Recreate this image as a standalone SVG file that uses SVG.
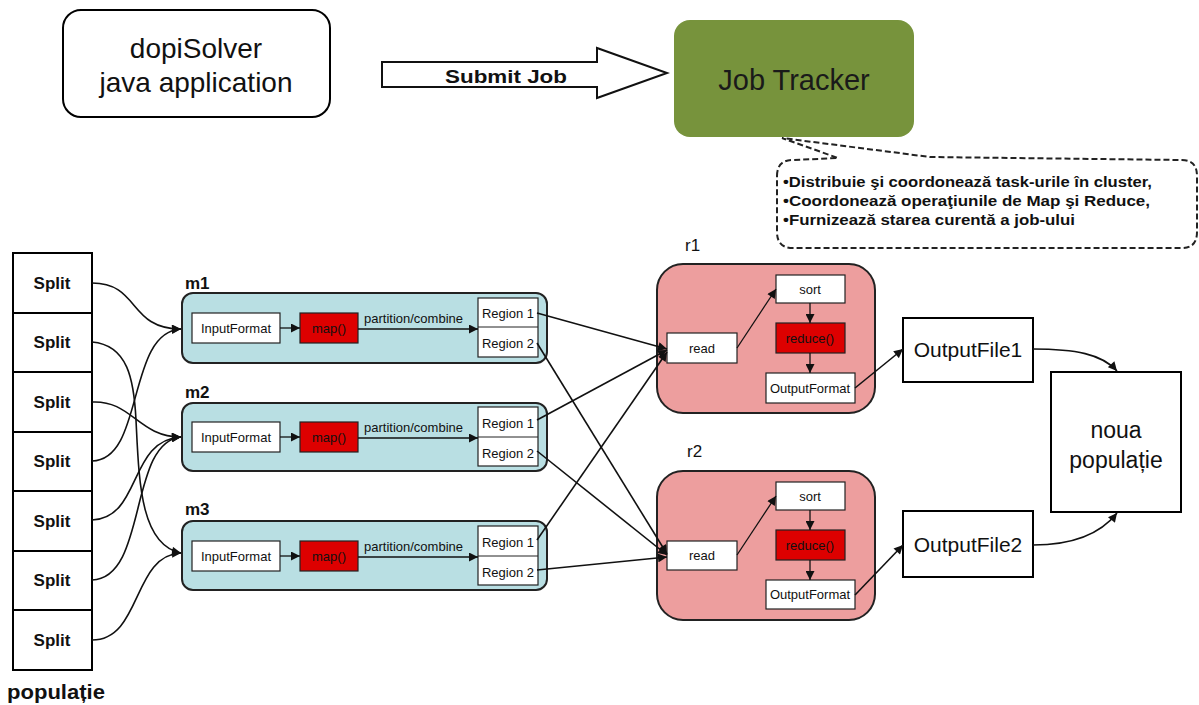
<svg xmlns="http://www.w3.org/2000/svg" width="1199" height="705" viewBox="0 0 1199 705">
<style>
text{font-family:"Liberation Sans",Arial,sans-serif;fill:#111}
.big{font-size:28px}
.split{font-size:17px;font-weight:bold;text-anchor:middle}
.lbl{font-size:17px;font-weight:bold}
.sm{font-size:13px;text-anchor:middle}
.smL{font-size:13px}
.bul{font-size:14px;font-weight:bold}
.box{fill:#fff;stroke:#000;stroke-width:2}
.thin{fill:#fff;stroke:#222;stroke-width:1.2}
.red{fill:#DD0000;stroke:#222;stroke-width:1.2}
.mapb{fill:#B9DFE3;stroke:#222;stroke-width:2}
.redb{fill:#ED9E9E;stroke:#222;stroke-width:2}
.con{fill:none;stroke:#111;stroke-width:1.6}
.cs{fill:none;stroke:#111;stroke-width:1.3}
</style>
<defs>
<marker id="ah" viewBox="0 0 10 10" refX="10" refY="5" markerWidth="10" markerHeight="9" markerUnits="userSpaceOnUse" orient="auto">
<path d="M0,0 L10,5 L0,10 Z" fill="#111"/>
</marker>
</defs>

<g id="dopiSolver">
<rect x="63" y="10" width="267" height="107" rx="18" class="box"/>
<text class="big" x="196" y="58" text-anchor="middle">dopiSolver</text>
<text class="big" x="196" y="92" text-anchor="middle">java application</text>
</g>

<g id="submitJob">
<path d="M382,62 L597,62 L597,48 L667,73 L597,98 L597,87 L382,87 Z" fill="#fff" stroke="#111" stroke-width="2"/>
<text x="445" y="83" font-size="18" font-weight="bold" textLength="122" lengthAdjust="spacingAndGlyphs">Submit Job</text>
</g>

<g id="jobTracker">
<rect x="674" y="20" width="240" height="117" rx="16" fill="#77933C"/>
<text x="794" y="90" font-size="29" text-anchor="middle" style="fill:#1a1a1a">Job Tracker</text>
</g>

<g id="callout">
<path d="M777,176 Q777,160 793,160 L838,158 L782,138 L930,157 L1182,160 Q1197,160 1197,176 L1197,232 Q1197,248 1182,248 L793,248 Q777,248 777,232 Z" fill="#fff" stroke="#222" stroke-width="2" stroke-dasharray="6,3"/>
<text class="bul" x="783" y="187" textLength="369" lengthAdjust="spacingAndGlyphs">•Distribuie şi coordonează task-urile în cluster,</text>
<text class="bul" x="783" y="206" textLength="367" lengthAdjust="spacingAndGlyphs">•Coordonează operaţiunile de Map şi Reduce,</text>
<text class="bul" x="783" y="225" textLength="292" lengthAdjust="spacingAndGlyphs">•Furnizează starea curentă a job-ului</text>
</g>

<g id="populatie">
<rect x="13" y="253" width="79" height="60" class="box"/>
<text class="split" x="52" y="289">Split</text>
<rect x="13" y="313" width="79" height="59" class="box"/>
<text class="split" x="52" y="348">Split</text>
<rect x="13" y="372" width="79" height="60" class="box"/>
<text class="split" x="52" y="408">Split</text>
<rect x="13" y="432" width="79" height="59" class="box"/>
<text class="split" x="52" y="467">Split</text>
<rect x="13" y="491" width="79" height="60" class="box"/>
<text class="split" x="52" y="527">Split</text>
<rect x="13" y="551" width="79" height="59" class="box"/>
<text class="split" x="52" y="586">Split</text>
<rect x="13" y="610" width="79" height="60" class="box"/>
<text class="split" x="52" y="646">Split</text>
<text x="7" y="699" font-size="21" font-weight="bold" textLength="98" lengthAdjust="spacingAndGlyphs">populație</text>
</g>

<g id="m1">
<text class="lbl" x="185" y="289">m1</text>
<rect x="182" y="293" width="365" height="70" rx="11" class="mapb"/>
<rect x="192" y="313" width="88" height="30" class="thin"/>
<text class="sm" x="236" y="333">InputFormat</text>
<rect x="300" y="313" width="58" height="30" class="red"/>
<text class="sm" x="329" y="333">map()</text>
<text class="smL" x="364" y="323">partition/combine</text>
<rect x="478" y="298" width="60" height="59" class="thin"/>
<line x1="478" y1="327" x2="538" y2="327" stroke="#222" stroke-width="1"/>
<text class="sm" x="508" y="318">Region 1</text>
<text class="sm" x="508" y="348">Region 2</text>
</g>

<g id="m2">
<text class="lbl" x="185" y="398">m2</text>
<rect x="182" y="403" width="365" height="68" rx="11" class="mapb"/>
<rect x="192" y="422" width="88" height="30" class="thin"/>
<text class="sm" x="236" y="442">InputFormat</text>
<rect x="300" y="422" width="58" height="30" class="red"/>
<text class="sm" x="329" y="442">map()</text>
<text class="smL" x="364" y="432">partition/combine</text>
<rect x="478" y="407" width="60" height="59" class="thin"/>
<line x1="478" y1="437" x2="538" y2="437" stroke="#222" stroke-width="1"/>
<text class="sm" x="508" y="428">Region 1</text>
<text class="sm" x="508" y="458">Region 2</text>
</g>

<g id="m3">
<text class="lbl" x="185" y="515">m3</text>
<rect x="182" y="521" width="365" height="69" rx="11" class="mapb"/>
<rect x="192" y="541" width="88" height="30" class="thin"/>
<text class="sm" x="236" y="561">InputFormat</text>
<rect x="300" y="541" width="58" height="30" class="red"/>
<text class="sm" x="329" y="561">map()</text>
<text class="smL" x="364" y="551">partition/combine</text>
<rect x="478" y="526" width="60" height="59" class="thin"/>
<line x1="478" y1="556" x2="538" y2="556" stroke="#222" stroke-width="1"/>
<text class="sm" x="508" y="547">Region 1</text>
<text class="sm" x="508" y="577">Region 2</text>
</g>

<g id="r1">
<text x="685" y="251" font-size="17">r1</text>
<rect x="657" y="264" width="218" height="149" rx="26" class="redb"/>
<rect x="667" y="333" width="70" height="30" class="thin"/>
<text class="sm" x="702" y="353">read</text>
<rect x="776" y="275" width="69" height="28" class="thin"/>
<text class="sm" x="810" y="294">sort</text>
<rect x="776" y="323" width="69" height="30" class="red"/>
<text class="sm" x="810" y="343">reduce()</text>
<rect x="766" y="373" width="89" height="30" class="thin"/>
<text class="sm" x="810" y="393">OutputFormat</text>
</g>

<g id="r2">
<text x="687" y="457" font-size="17">r2</text>
<rect x="657" y="471" width="218" height="149" rx="26" class="redb"/>
<rect x="667" y="541" width="70" height="29" class="thin"/>
<text class="sm" x="702" y="560">read</text>
<rect x="776" y="482" width="69" height="28" class="thin"/>
<text class="sm" x="810" y="501">sort</text>
<rect x="776" y="530" width="69" height="30" class="red"/>
<text class="sm" x="810" y="550">reduce()</text>
<rect x="766" y="580" width="89" height="29" class="thin"/>
<text class="sm" x="810" y="599">OutputFormat</text>
</g>

<g id="outputFile1">
<rect x="903" y="318" width="130" height="64" class="box"/>
<text x="968" y="357" font-size="21" text-anchor="middle">OutputFile1</text>
</g>

<g id="outputFile2">
<rect x="903" y="511" width="130" height="66" class="box"/>
<text x="968" y="552" font-size="21" text-anchor="middle">OutputFile2</text>
</g>

<g id="nouaPopulatie">
<rect x="1051" y="372" width="130" height="140" class="box"/>
<text x="1116" y="438" font-size="23" text-anchor="middle">noua</text>
<text x="1116" y="468" font-size="23" text-anchor="middle">populație</text>
</g>

<g id="connectors">
<path class="con" d="M92,283 C140,283 128,329 181,329" marker-end="url(#ah)"/>
<path class="con" d="M92,342 C128,345 134,380 136,420 C139,480 140,545 181,553" marker-end="url(#ah)"/>
<path class="con" d="M92,402 C132,400 138,437 181,437" marker-end="url(#ah)"/>
<path class="con" d="M92,461 C145,460 126,332 181,329" marker-end="url(#ah)"/>
<path class="con" d="M92,520 C142,518 128,440 181,437" marker-end="url(#ah)"/>
<path class="con" d="M92,580 C148,578 128,442 181,437" marker-end="url(#ah)"/>
<path class="con" d="M92,640 C142,640 132,555 181,553" marker-end="url(#ah)"/>

<line class="cs" x1="280" y1="328" x2="300" y2="328" marker-end="url(#ah)"/>
<line class="cs" x1="358" y1="329" x2="478" y2="329" marker-end="url(#ah)"/>
<line class="cs" x1="280" y1="437" x2="300" y2="437" marker-end="url(#ah)"/>
<line class="cs" x1="358" y1="438" x2="478" y2="438" marker-end="url(#ah)"/>
<line class="cs" x1="280" y1="556" x2="300" y2="556" marker-end="url(#ah)"/>
<line class="cs" x1="358" y1="557" x2="478" y2="557" marker-end="url(#ah)"/>

<line class="con" x1="537" y1="313" x2="667" y2="349" marker-end="url(#ah)"/>
<line class="con" x1="537" y1="343" x2="667" y2="554" marker-end="url(#ah)"/>
<line class="con" x1="537" y1="420" x2="667" y2="350" marker-end="url(#ah)"/>
<line class="con" x1="537" y1="451" x2="667" y2="555" marker-end="url(#ah)"/>
<line class="con" x1="537" y1="540" x2="667" y2="352" marker-end="url(#ah)"/>
<line class="con" x1="537" y1="570" x2="667" y2="557" marker-end="url(#ah)"/>

<line class="cs" x1="737" y1="348" x2="776" y2="289" marker-end="url(#ah)"/>
<line class="cs" x1="810" y1="303" x2="810" y2="323" marker-end="url(#ah)"/>
<line class="cs" x1="810" y1="353" x2="810" y2="373" marker-end="url(#ah)"/>
<line class="con" x1="855" y1="388" x2="903" y2="349" marker-end="url(#ah)"/>

<line class="cs" x1="737" y1="555" x2="776" y2="496" marker-end="url(#ah)"/>
<line class="cs" x1="810" y1="510" x2="810" y2="530" marker-end="url(#ah)"/>
<line class="cs" x1="810" y1="560" x2="810" y2="580" marker-end="url(#ah)"/>
<line class="con" x1="855" y1="595" x2="903" y2="545" marker-end="url(#ah)"/>

<path class="con" d="M1033,349 C1075,349 1102,354 1117,371" marker-end="url(#ah)"/>
<path class="con" d="M1033,545 C1075,545 1102,532 1117,513" marker-end="url(#ah)"/>
</g>
</svg>
